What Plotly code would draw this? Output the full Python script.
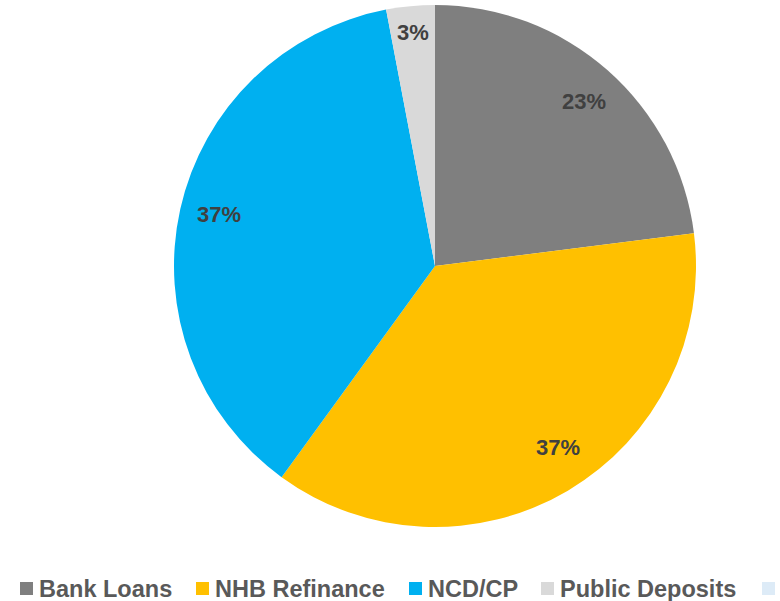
import math
import plotly.graph_objects as go

# ---- data ----
categories = ["Bank Loans", "NHB Refinance", "NCD/CP", "Public Deposits", "Others"]
values = [23, 37, 37, 3, 0]
label_texts = ["23%", "37%", "37%", "3%", ""]
colors = ["#7F7F7F", "#FFC000", "#00B0F0", "#D9D9D9", "#DDEBF7"]

# ---- layout constants ----
W, H = 780, 601
CX, CY, R = 435, 266, 261
label_r = [0.85, 0.84, 0.852, 0.90, 0.85]
label_shift_deg = [0.9, -3.6, 0.7, 0.0, 0.0]
legend_sq_x = [20, 196, 409, 541, 762]
legend_y = 589
FONT = "Liberation Sans, Arial, sans-serif"

fig = go.Figure()
fig.add_trace(go.Pie(
    labels=categories,
    values=values,
    sort=False,
    direction="clockwise",
    rotation=0,
    marker=dict(colors=colors, line=dict(width=0)),
    textinfo="none",
    hoverinfo="label+percent",
    showlegend=False,
    domain=dict(x=[(CX - R) / W, (CX + R) / W], y=[1 - (CY + R) / H, 1 - (CY - R) / H]),
))

annotations = []
total = sum(values)
cum = 0.0
for i, v in enumerate(values):
    if v <= 0:
        continue
    mid = (cum + v / 2) / total * 2 * math.pi + math.radians(label_shift_deg[i])
    cum += v
    px = CX + label_r[i] * R * math.sin(mid)
    py = CY - label_r[i] * R * math.cos(mid)
    annotations.append(dict(
        x=px / W, y=1 - py / H, xref="paper", yref="paper",
        text="<b>%s</b>" % label_texts[i], showarrow=False,
        xanchor="center", yanchor="middle",
        font=dict(family=FONT, size=22, color="#404040"),
    ))

shapes = []
for i, name in enumerate(categories):
    x0 = legend_sq_x[i]
    shapes.append(dict(
        type="rect", xref="paper", yref="paper",
        x0=x0 / W, x1=(x0 + 13) / W,
        y0=1 - (legend_y + 6) / H, y1=1 - (legend_y - 7) / H,
        fillcolor=colors[i], line=dict(width=0),
    ))
    # the last legend entry's text lies beyond the right edge in the reference (only its swatch shows)
    if x0 + 17 < W - 10:
        annotations.append(dict(
            x=(x0 + 17) / W, y=1 - legend_y / H, xref="paper", yref="paper",
            text="<b>%s</b>" % name, showarrow=False,
            xanchor="left", yanchor="middle",
            font=dict(family=FONT, size=23.5, color="#595959"),
        ))

fig.update_layout(
    width=W, height=H,
    margin=dict(l=0, r=0, t=0, b=0),
    paper_bgcolor="white",
    plot_bgcolor="white",
    annotations=annotations,
    shapes=shapes,
)

fig.write_html(
    "out.html",
    config={"displayModeBar": False},
    post_script="document.body.style.margin='0';document.body.style.overflow='hidden';",
)
